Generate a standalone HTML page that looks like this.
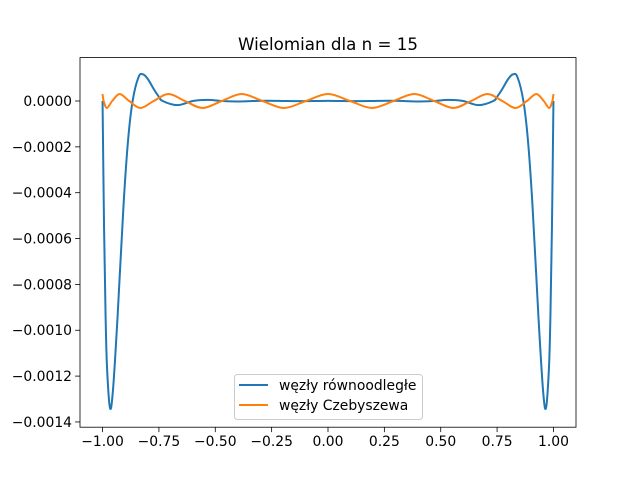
<!DOCTYPE html>
<html><head><meta charset="utf-8"><style>
body{margin:0;background:#fff}
svg text{font-family:"DejaVu Sans","Liberation Sans",sans-serif;fill:#000}
</style></head><body>
<svg id="chart" width="640" height="480" viewBox="0 0 640 480" xmlns="http://www.w3.org/2000/svg">
<rect width="640" height="480" fill="#fff"/>
<text x="328" y="50" font-size="16.7" text-anchor="middle">Wielomian dla n = 15</text>
<g id="plot"></g>
<g id="axes"></g>
<g>
<rect x="234.5" y="374.5" width="188" height="45" rx="3" fill="#fff" fill-opacity="0.8" stroke="#ccc"/>
<line x1="239" y1="385" x2="268" y2="385" stroke="#1f77b4" stroke-width="2"/>
<text x="279" y="390" font-size="13.9">węzły równoodległe</text>
<line x1="239" y1="405" x2="268" y2="405" stroke="#ff7f0e" stroke-width="2"/>
<text x="279" y="410" font-size="13.9">węzły Czebyszewa</text>
</g>
</svg>
<script>
const xTicks=[-1.0,-0.75,-0.5,-0.25,0,0.25,0.5,0.75,1.0];
const xTickLabels=["−1.00","−0.75","−0.50","−0.25","0.00","0.25","0.50","0.75","1.00"];
const yTicks=[0,-0.0002,-0.0004,-0.0006,-0.0008,-0.0010,-0.0012,-0.0014];
const yTickLabels=["0.0000","−0.0002","−0.0004","−0.0006","−0.0008","−0.0010","−0.0012","−0.0014"];
const blueX=[-1,-0.99333,-0.98667,-0.98,-0.96667,-0.95333,-0.93333,-0.90667,-0.88667,-0.86667,-0.84,-0.82,-0.8,-0.77333,-0.75333,-0.73333,-0.66667,-0.6,-0.53333,-0.46667,-0.4,-0.33333,-0.26667,-0.2,-0.13333,-0.06667,0,0.06667,0.13333,0.2,0.26667,0.33333,0.4,0.46667,0.53333,0.6,0.66667,0.73333,0.75333,0.77333,0.8,0.82,0.84,0.86667,0.88667,0.90667,0.93333,0.95333,0.96667,0.98,0.98667,0.99333,1];
const blueY=[0,-5.5e-4,-9.3e-4,-1.165e-3,-1.34e-3,-1.256e-3,-9.4e-4,-4.5e-4,-1.7e-4,0,1.05e-4,1.16e-4,9.7e-5,5.3e-5,2.3e-5,0,-1.8e-5,0,5e-6,0,-2e-6,0,1e-6,0,-7e-7,0,6e-7,0,-7e-7,0,1e-6,0,-2e-6,0,5e-6,0,-1.8e-5,0,2.3e-5,5.3e-5,9.7e-5,1.16e-4,1.05e-4,0,-1.7e-4,-4.5e-4,-9.4e-4,-1.256e-3,-1.34e-3,-1.165e-3,-9.3e-4,-5.5e-4,0];
const orangeX=[-1,-0.99518,-0.98079,-0.95694,-0.92388,-0.88192,-0.83147,-0.77301,-0.70711,-0.63439,-0.55557,-0.4714,-0.38268,-0.29028,-0.19509,-0.09802,0,0.09802,0.19509,0.29028,0.38268,0.4714,0.55557,0.63439,0.70711,0.77301,0.83147,0.88192,0.92388,0.95694,0.98079,0.99518,1];
const orangeY=[3.05e-5,0,-3.05e-5,0,3.05e-5,0,-3.05e-5,0,3.05e-5,0,-3.05e-5,0,3.05e-5,0,-3.05e-5,0,3.05e-5,0,-3.05e-5,0,3.05e-5,0,-3.05e-5,0,3.05e-5,0,-3.05e-5,0,3.05e-5,0,-3.05e-5,0,3.05e-5];
const L=80,R=576,T=57.6,B=427.2;
const xMin=-1.1,xMax=1.1,yMin=-0.0014229,yMax=0.0001893;
const sx=v=>L+(v-xMin)/(xMax-xMin)*(R-L);
const sy=v=>B-(v-yMin)/(yMax-yMin)*(B-T);
const NS="http://www.w3.org/2000/svg";
function mk(tag,attrs,parent){const e=document.createElementNS(NS,tag);for(const k in attrs)e.setAttribute(k,attrs[k]);parent.appendChild(e);return e;}
const plot=document.getElementById('plot'),axes=document.getElementById('axes');
function pathFor(xs,ys){
  const p=xs.map((x,i)=>[sx(x),sy(ys[i])]);
  let d=`M${p[0][0].toFixed(2)},${p[0][1].toFixed(2)}`;
  for(let i=0;i<p.length-1;i++){
    const p0=p[Math.max(0,i-1)],p1=p[i],p2=p[i+1],p3=p[Math.min(p.length-1,i+2)];
    const c1=[p1[0]+(p2[0]-p0[0])/6,p1[1]+(p2[1]-p0[1])/6];
    const c2=[p2[0]-(p3[0]-p1[0])/6,p2[1]-(p3[1]-p1[1])/6];
    d+=`C${c1[0].toFixed(2)},${c1[1].toFixed(2)} ${c2[0].toFixed(2)},${c2[1].toFixed(2)} ${p2[0].toFixed(2)},${p2[1].toFixed(2)}`;
  }
  return d;
}
const bl=mk('path',{d:pathFor(blueX,blueY),fill:'none',stroke:'#1f77b4','stroke-width':2,'stroke-linejoin':'round'},plot);


const ol=mk('path',{d:pathFor(orangeX,orangeY),fill:'none',stroke:'#ff7f0e','stroke-width':2,'stroke-linejoin':'round'},plot);


const frame=mk('rect',{x:L,y:T,width:R-L,height:B-T,fill:'none',stroke:'#000','stroke-width':0.8},axes);


xTicks.forEach((v,i)=>{
  const x=sx(v);
  mk('line',{x1:x,y1:B,x2:x,y2:B+4.9,stroke:'#000','stroke-width':0.8},axes);
  const t=mk('text',{x:x,y:B+19,'font-size':13.9,'text-anchor':'middle'},axes);
  t.textContent=xTickLabels[i];
  
  
});
yTicks.forEach((v,i)=>{
  const y=sy(v);
  mk('line',{x1:L-4.9,y1:y,x2:L,y2:y,stroke:'#000','stroke-width':0.8},axes);
  const t=mk('text',{x:L-8,y:y+5,'font-size':13.9,'text-anchor':'end'},axes);
  t.textContent=yTickLabels[i];
  
  
});
</script>
</body></html>
